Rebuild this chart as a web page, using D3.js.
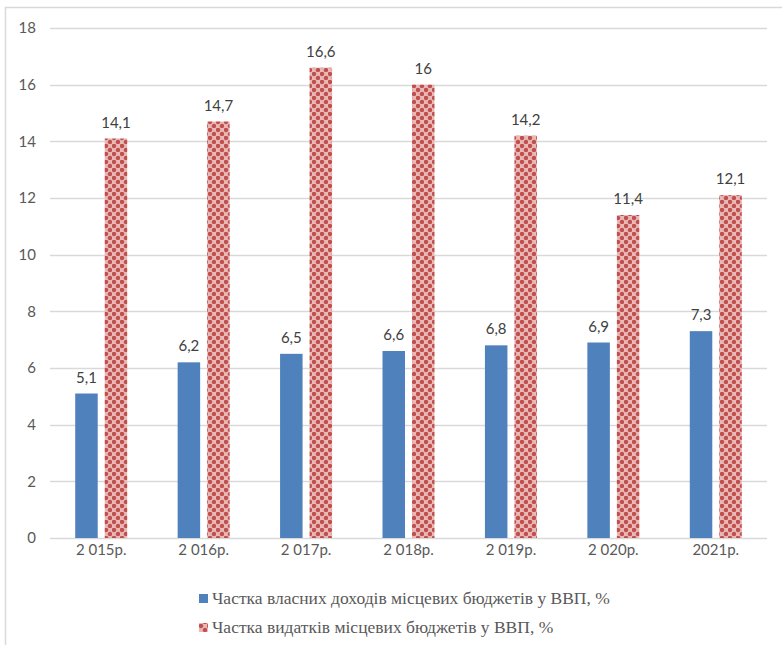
<!DOCTYPE html>
<html>
<head>
<meta charset="utf-8">
<script src="https://cdn.jsdelivr.net/npm/d3@7"></script>
<style>
  html, body { margin: 0; padding: 0; background: #fff; }
  svg { display: block; }
  svg text.legend-text { font-family: "Liberation Serif", "DejaVu Serif", serif; }
</style>
</head>
<body>
<svg id="chart" width="782" height="645"></svg>
<script>
// Years on the category axis
const categories = ["2 015р.", "2 016р.", "2 017р.", "2 018р.", "2 019р.", "2 020р.", "2021р."];
// Share of own revenues of local budgets in GDP, %
const ownRevenues = [5.1, 6.2, 6.5, 6.6, 6.8, 6.9, 7.3];
// Share of local budget expenditures in GDP, %
const expenditures = [14.1, 14.7, 16.6, 16, 14.2, 11.4, 12.1];
// Value-axis ticks
const yTicks = [0, 2, 4, 6, 8, 10, 12, 14, 16, 18];
const seriesNames = [
  "Частка власних доходів місцевих бюджетів у ВВП, %",
  "Частка видатків місцевих бюджетів у ВВП, %"
];

const blue = "#4f81bd";
const red = "#c0504d";
const tickFont = "Lato, 'Open Sans', sans-serif";

const svg = d3.select("#chart");

// Outer frame of the chart area
svg.append("rect")
  .attr("x", 5.5).attr("y", 7.5)
  .attr("width", 790).attr("height", 650)
  .attr("fill", "none").attr("stroke", "#d9d9d9").attr("stroke-width", 1.5);

// Dotted checker fill for the expenditures series
const defs = svg.append("defs");
const pat = defs.append("pattern")
  .attr("id", "dots")
  .attr("patternUnits", "userSpaceOnUse")
  .attr("width", 8).attr("height", 8);
pat.append("rect").attr("width", 8).attr("height", 8).attr("fill", "#fff");
pat.append("rect").attr("x", 4).attr("y", 0).attr("width", 4).attr("height", 4).attr("fill", "#eab8b7");
pat.append("rect").attr("x", 0).attr("y", 4).attr("width", 4).attr("height", 4).attr("fill", "#eab8b7");
pat.append("circle").attr("cx", 2).attr("cy", 2).attr("r", 2.3).attr("fill", red);
pat.append("circle").attr("cx", 6).attr("cy", 6).attr("r", 2.3).attr("fill", red);

const plot = { left: 50, right: 767, top: 28, bottom: 538 };

const x = d3.scaleBand()
  .domain(categories)
  .range([plot.left, plot.right]);

const y = d3.scaleLinear()
  .domain([0, 18])
  .range([plot.bottom, plot.top]);

const barW = 22.5;
const gap = 7;

// Horizontal gridlines
svg.append("g")
  .selectAll("line")
  .data(yTicks)
  .join("line")
  .attr("x1", plot.left).attr("x2", plot.right)
  .attr("y1", d => Math.round(y(d)) + 0.5).attr("y2", d => Math.round(y(d)) + 0.5)
  .attr("stroke", "#d9d9d9").attr("stroke-width", 1.3);

// Value axis labels
const yAxis = d3.axisLeft(y).tickValues(yTicks).tickSize(0).tickPadding(0)
  .tickFormat(d3.format("d"));
const yg = svg.append("g").attr("transform", `translate(36,0)`).call(yAxis);
yg.select(".domain").remove();
yg.selectAll("text")
  .attr("font-family", tickFont).attr("font-size", 15).attr("fill", "#595959");

// Category axis labels
const xAxis = d3.axisBottom(x).tickSize(0).tickPadding(0);
const xg = svg.append("g").attr("transform", `translate(0,${plot.bottom + 6})`).call(xAxis);
xg.select(".domain").remove();
xg.selectAll("text")
  .attr("font-family", tickFont).attr("font-size", 15).attr("fill", "#595959");

const center = c => x(c) + x.bandwidth() / 2;

// Own revenue bars
svg.append("g").selectAll("rect")
  .data(categories.map((c, i) => ({ c, v: ownRevenues[i] })))
  .join("rect")
  .attr("x", d => center(d.c) - gap / 2 - barW)
  .attr("y", d => y(d.v))
  .attr("width", barW)
  .attr("height", d => y(0) - y(d.v))
  .attr("fill", blue);

// Expenditure bars
svg.append("g").selectAll("rect")
  .data(categories.map((c, i) => ({ c, v: expenditures[i] })))
  .join("rect")
  .attr("x", d => center(d.c) + gap / 2)
  .attr("y", d => y(d.v))
  .attr("width", barW)
  .attr("height", d => y(0) - y(d.v))
  .attr("fill", "url(#dots)");

const fmt = v => String(v).replace(".", ",");

// Data labels
svg.append("g").selectAll("text")
  .data(categories.map((c, i) => ({ c, v: ownRevenues[i] })))
  .join("text")
  .attr("x", d => center(d.c) - gap / 2 - barW / 2)
  .attr("y", d => y(d.v) - 11)
  .attr("text-anchor", "middle")
  .attr("font-family", tickFont).attr("font-size", 15).attr("fill", "#404040")
  .text(d => fmt(d.v));

svg.append("g").selectAll("text")
  .data(categories.map((c, i) => ({ c, v: expenditures[i] })))
  .join("text")
  .attr("x", d => center(d.c) + gap / 2 + barW / 2)
  .attr("y", d => y(d.v) - 11)
  .attr("text-anchor", "middle")
  .attr("font-family", tickFont).attr("font-size", 15).attr("fill", "#404040")
  .text(d => fmt(d.v));

// Legend
const legend = svg.append("g").attr("transform", "translate(199,0)");
const legendRows = [
  { name: seriesNames[0], fill: blue, y: 599 },
  { name: seriesNames[1], fill: "url(#dots)", y: 628 }
];
legendRows.forEach(r => {
  legend.append("rect")
    .attr("x", 0).attr("y", r.y - 5)
    .attr("width", 9).attr("height", 9)
    .attr("fill", r.fill);
  legend.append("text")
    .attr("class", "legend-text")
    .attr("x", 13).attr("y", r.y + 5)
    .style("font-size", "17.5px").attr("fill", "#595959")
    .text(r.name);
});
</script>
</body>
</html>
